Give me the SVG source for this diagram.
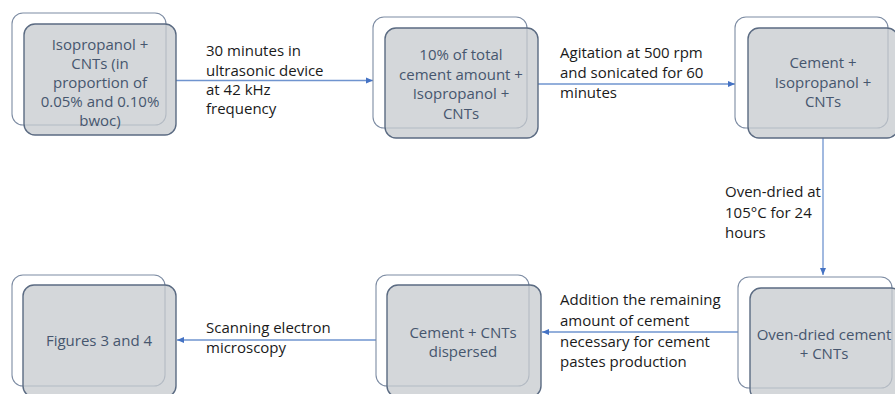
<svg xmlns="http://www.w3.org/2000/svg" width="895" height="394" viewBox="0 0 895 394">
<style>
.bk{fill:#ffffff;stroke:#7d8ca3;stroke-width:1.1}
.fr{fill:#c6c9cd;fill-opacity:0.75;stroke:#5b6b82;stroke-width:1.4}
.nt{font-family:"Open Sans","Liberation Sans",sans-serif;font-size:15px;fill:#46566e;text-anchor:middle}
.lb{font-family:"Open Sans","Liberation Sans",sans-serif;font-size:15px;fill:#1a1a1a}
.cn{stroke:#6f94cf;stroke-width:1.3;fill:none;marker-end:url(#ah)}
</style>
<defs>
<marker id="ah" markerUnits="userSpaceOnUse" markerWidth="8" markerHeight="8" refX="7" refY="4" orient="auto">
<path d="M0,1 L7,4 L0,7 Z" fill="#4472c4"/>
</marker>
</defs>
<rect width="895" height="394" fill="#ffffff"/>
<g id="connectors">
<line class="cn" x1="176" y1="80.5" x2="373" y2="80.5"/>
<line class="cn" x1="538" y1="84" x2="735" y2="84"/>
<line class="cn" x1="823" y1="138" x2="823" y2="275"/>
<line class="cn" x1="738" y1="332" x2="542" y2="332"/>
<line class="cn" x1="376" y1="340" x2="177" y2="340"/>
</g>
<g id="n1">
<rect class="bk" x="12" y="13" width="154" height="112" rx="11"/>
<rect class="fr" x="24" y="24" width="152" height="111" rx="11"/>
<text class="nt"><tspan x="100" y="50">Isopropanol +</tspan><tspan x="100" y="69">CNTs (in</tspan><tspan x="100" y="88">proportion of</tspan><tspan x="100" y="107">0.05% and 0.10%</tspan><tspan x="100" y="126">bwoc)</tspan></text>
</g>
<g id="n2">
<rect class="bk" x="373" y="17" width="154" height="111" rx="11"/>
<rect class="fr" x="385" y="28" width="153" height="110" rx="11"/>
<text class="nt"><tspan x="461" y="60">10% of total</tspan><tspan x="461" y="79.5">cement amount +</tspan><tspan x="461" y="99">Isopropanol +</tspan><tspan x="461" y="118.5">CNTs</tspan></text>
</g>
<g id="n3">
<rect class="bk" x="735" y="17" width="153" height="111" rx="11"/>
<rect class="fr" x="748" y="28" width="150" height="110" rx="11"/>
<text class="nt"><tspan x="823" y="68">Cement +</tspan><tspan x="823" y="87.5">Isopropanol +</tspan><tspan x="823" y="107">CNTs</tspan></text>
</g>
<g id="n4">
<rect class="bk" x="738" y="277" width="154" height="111" rx="11"/>
<rect class="fr" x="750" y="288" width="152" height="112" rx="11"/>
<text class="nt"><tspan x="824" y="340">Oven-dried cement</tspan><tspan x="824" y="359">+ CNTs</tspan></text>
</g>
<g id="n5">
<rect class="bk" x="376" y="275" width="153" height="111" rx="11"/>
<rect class="fr" x="387" y="285" width="154" height="112" rx="11"/>
<text class="nt"><tspan x="463" y="338">Cement + CNTs</tspan><tspan x="463" y="357">dispersed</tspan></text>
</g>
<g id="n6">
<rect class="bk" x="12" y="275" width="153" height="111" rx="11"/>
<rect class="fr" x="23" y="285" width="153" height="112" rx="11"/>
<text class="nt"><tspan x="99" y="346">Figures 3 and 4</tspan></text>
</g>
<g id="labels">
<text class="lb"><tspan x="206" y="56">30 minutes in</tspan><tspan x="206" y="75.5">ultrasonic device</tspan><tspan x="206" y="95">at 42 kHz</tspan><tspan x="206" y="114">frequency</tspan></text>
<text class="lb"><tspan x="560" y="58">Agitation at 500 rpm</tspan><tspan x="560" y="78">and sonicated for 60</tspan><tspan x="560" y="98">minutes</tspan></text>
<text class="lb"><tspan x="725" y="197">Oven-dried at</tspan><tspan x="725" y="217.5">105°C for 24</tspan><tspan x="725" y="238">hours</tspan></text>
<text class="lb"><tspan x="560" y="305">Addition the remaining</tspan><tspan x="560" y="325.5">amount of cement</tspan><tspan x="560" y="346.5">necessary for cement</tspan><tspan x="560" y="367">pastes production</tspan></text>
<text class="lb"><tspan x="206" y="333">Scanning electron</tspan><tspan x="206" y="353">microscopy</tspan></text>
</g>
</svg>
